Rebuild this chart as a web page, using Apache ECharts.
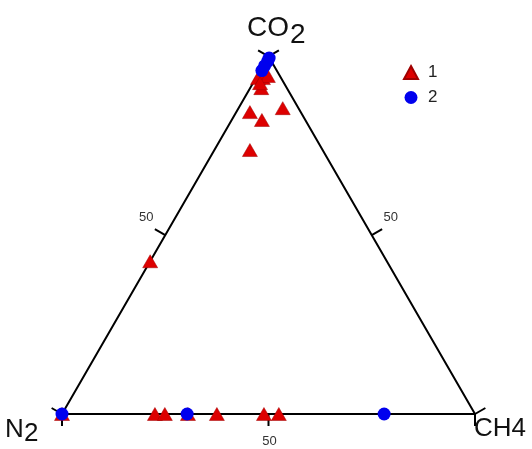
<!DOCTYPE html>
<html>
<head>
<meta charset="utf-8">
<script src="https://cdn.jsdelivr.net/npm/echarts@6/dist/echarts.min.js"></script>
<style>
  html, body { margin: 0; padding: 0; background: #fff; }
  #chart { width: 532px; height: 449px; }
</style>
</head>
<body>
<div id="chart"></div>
<script>
// 组成数据 (%), 每个样品: CO2, CH4 (N2 = 100 - CO2 - CH4)
const group1CO2 = [0, 0, 0, 0, 0, 0, 0, 42.7, 73.8, 84.4, 82.2, 85.5, 91.1, 93.9, 93.9, 94.5, 92.5];
const group1CH4 = [0, 22.5, 24.9, 30.5, 37.5, 48.9, 52.5, 0, 8.6, 3.3, 7.3, 10.7, 2.7, 0.5, 1.7, 2.6, 1.7];
const group2CO2 = [0, 0, 0, 99.5, 98.6, 97.3, 96.0];
const group2CH4 = [0, 30.3, 78.0, 0.4, 0.5, 0.4, 0.4];

const seriesNames = ['1', '2'];
const tickValues = [0, 50, 100];
const tickLabels = ['', '50', ''];

const SQ = Math.sqrt(3) / 2;
// 三元坐标 -> 直角坐标
function toXY(co2, ch4) {
  return [ch4 + co2 / 2, co2 * SQ];
}
const points1 = group1CO2.map((c, i) => toXY(c, group1CH4[i]));
const points2 = group2CO2.map((c, i) => toXY(c, group2CH4[i]));

// 三角形边框
const frame = [toXY(0, 0), toXY(0, 100), toXY(100, 0), toXY(0, 0)];

// 刻度: 底边(CH4)、左边(CO2)、右边(CO2)
const sides = [
  { dx: 0, dy: 1, lx: 1, ly: 27 },
  { dx: -0.866, dy: -0.5, lx: -19, ly: -18 },
  { dx: 0.866, dy: -0.5, lx: 19, ly: -18 }
];
const ticks = [];
tickValues.forEach((v, i) => {
  ticks.push([v, 0, 0, i]);
  ticks.push([v / 2, v * SQ, 1, i]);
  ticks.push([100 - v / 2, v * SQ, 2, i]);
});

const chart = echarts.init(document.getElementById('chart'));
const tickLen = 12;

chart.setOption({
  animation: false,
  grid: { left: 62, top: 56.3, width: 413, height: 357.7 },
  xAxis: { type: 'value', min: 0, max: 100, show: false },
  yAxis: { type: 'value', min: 0, max: 100 * SQ, show: false },
  legend: {
    orient: 'vertical',
    left: 398,
    top: 59,
    itemWidth: 14,
    itemHeight: 13,
    itemGap: 8,
    data: seriesNames,
    textStyle: { fontSize: 17, color: '#222', fontFamily: 'Liberation Sans', padding: [0, 0, 0, 5] }
  },
  graphic: [
    { type: 'text', left: 247, top: 14, style: { text: 'CO', fontSize: 28, fontFamily: 'Liberation Sans', fill: '#111' } },
    { type: 'text', left: 290, top: 21, style: { text: '2', fontSize: 28, fontFamily: 'Liberation Sans', fill: '#111' } },
    { type: 'text', left: 5, top: 417, style: { text: 'N', fontSize: 26, fontFamily: 'Liberation Sans', fill: '#111' } },
    { type: 'text', left: 24, top: 421, style: { text: '2', fontSize: 26, fontFamily: 'Liberation Sans', fill: '#111' } },
    { type: 'text', left: 474, top: 416, style: { text: 'CH4', fontSize: 26, fontFamily: 'Liberation Sans', fill: '#111' } }
  ],
  series: [
    {
      type: 'line',
      data: frame,
      symbol: 'none',
      clip: false,
      silent: true,
      z: 1,
      lineStyle: { color: '#000', width: 2 }
    },
    {
      type: 'custom',
      coordinateSystem: 'cartesian2d',
      clip: false,
      silent: true,
      z: 1,
      data: ticks,
      renderItem: function (params, api) {
        const p = api.coord([api.value(0), api.value(1)]);
        const s = sides[api.value(2)];
        const label = tickLabels[api.value(3)];
        const children = [{
          type: 'line',
          shape: { x1: p[0], y1: p[1], x2: p[0] + s.dx * tickLen, y2: p[1] + s.dy * tickLen },
          style: { stroke: '#000', lineWidth: 2 }
        }];
        if (label) {
          children.push({
            type: 'text',
            x: p[0] + s.lx,
            y: p[1] + s.ly,
            style: {
              text: label, fontSize: 13, fontFamily: 'Liberation Sans', fill: '#333',
              align: 'center', verticalAlign: 'middle'
            }
          });
        }
        return { type: 'group', children: children };
      }
    },
    {
      name: '1',
      type: 'scatter',
      data: points1,
      symbol: 'triangle',
      symbolSize: [15, 13],
      clip: false,
      z: 3,
      itemStyle: { color: '#dd0000', borderColor: '#a00000', borderWidth: 0.5, opacity: 1 }
    },
    {
      name: '2',
      type: 'scatter',
      data: points2,
      symbol: 'circle',
      symbolSize: 13,
      clip: false,
      z: 4,
      itemStyle: { color: '#0000ee', opacity: 1 }
    }
  ]
});
</script>
</body>
</html>
